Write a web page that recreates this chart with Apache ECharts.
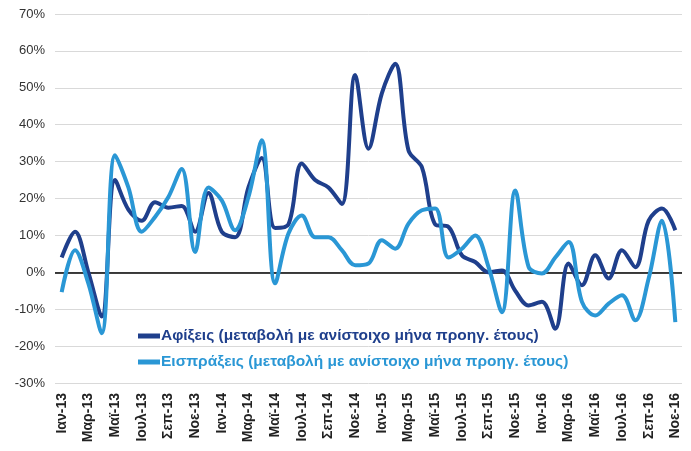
<!DOCTYPE html>
<html>
<head>
<meta charset="utf-8">
<script src="https://cdn.jsdelivr.net/npm/echarts@6/dist/echarts.min.js"></script>
<style>
  html, body { margin: 0; padding: 0; background: #fff; }
  #chart { width: 691px; height: 451px; }
</style>
</head>
<body>
<div id="chart"></div>
<script>
// μήνες Ιαν-13 .. Νοε-16
const monthNames = ["Ιαν", "Φεβ", "Μαρ", "Απρ", "Μαϊ", "Ιουν", "Ιουλ", "Αυγ", "Σεπ", "Οκτ", "Νοε", "Δεκ"];
const years = ["13", "14", "15", "16"];
const categories = [];
years.forEach(function (y) {
  monthNames.forEach(function (m) {
    categories.push(m + "-" + y);
  });
});
categories.length = 47;

const arrivals = [
  4, 11, 0, -12, 25, 17, 14, 19, 17.5, 18, 11, 21.5,
  11, 9.5, 23, 31, 12, 13, 29.5, 25, 23, 18.5,
  53.5, 33.5, 48.5, 56.5, 33, 28.5, 13, 12.3,
  4.6, 2.8, 0, 0.5, -5, -9, -8, -15.3, 2.4, -3.5,
  4.6, -1.7, 6, 1.4, 14, 17.3, 11.4
];

const receipts = [
  -5.4, 6, -3, -16.5, 31.7, 23, 11, 15, 20.4, 28, 5.5, 23,
  19.5, 11.4, 20.4, 35.8, -3, 10.5, 15.4, 9.5, 9.5, 6,
  1.9, 2.4, 8.7, 6.4, 13.2, 16.8, 17.3, 4,
  6.4, 10, 1.4, -10.8, 22.2, 1.5, -0.3, 4, 8.2, -8,
  -11.7, -8.5, -6.2, -13, -1.7, 14, -13.5
];

const seriesNames = [
  "Αφίξεις (μεταβολή με ανίστοιχο μήνα προηγ. έτους)",
  "Εισπράξεις (μεταβολή με ανίστοιχο μήνα προηγ. έτους)"
];

const chart = echarts.init(document.getElementById("chart"));
chart.setOption({
  animation: false,
  textStyle: { fontFamily: "Liberation Sans, Arial, sans-serif" },
  grid: { left: 55, right: 9, top: 14, bottom: 68 },
  legend: {
    orient: "vertical",
    left: 133,
    top: 323,
    itemWidth: 22,
    itemHeight: 5,
    itemGap: 10,
    icon: "rect",
    data: seriesNames,
    textStyle: { fontSize: 15.5, fontWeight: "bold", color: "inherit", padding: [0, 0, 0, -4] }
  },
  xAxis: {
    type: "category",
    data: categories,
    boundaryGap: true,
    axisLine: { show: false },
    axisTick: { show: false },
    axisLabel: {
      interval: 1,
      rotate: 90,
      margin: 10,
      fontSize: 14,
      fontWeight: "bold",
      color: "#222"
    }
  },
  yAxis: {
    type: "value",
    min: -30,
    max: 70,
    interval: 10,
    axisLine: { show: false },
    axisTick: { show: false },
    axisLabel: { formatter: "{value}%", fontSize: 13, color: "#333", margin: 10 },
    splitLine: { lineStyle: { color: "#d9d9d9", width: 1 } }
  },
  series: [
    {
      name: seriesNames[0],
      type: "line",
      data: arrivals,
      smooth: 0.35,
      showSymbol: false,
      itemStyle: { color: "#1f3f8c" },
      lineStyle: { color: "#1f3f8c", width: 4 },
      z: 3,
      markLine: {
        silent: true,
        symbol: "none",
        label: { show: false },
        lineStyle: { color: "#000", width: 1.5, type: "solid" },
        data: [{ yAxis: 0 }],
        z: 1
      }
    },
    {
      name: seriesNames[1],
      type: "line",
      data: receipts,
      smooth: 0.35,
      showSymbol: false,
      itemStyle: { color: "#2a97d5" },
      lineStyle: { color: "#2a97d5", width: 4 },
      z: 4
    }
  ]
});
</script>
</body>
</html>
